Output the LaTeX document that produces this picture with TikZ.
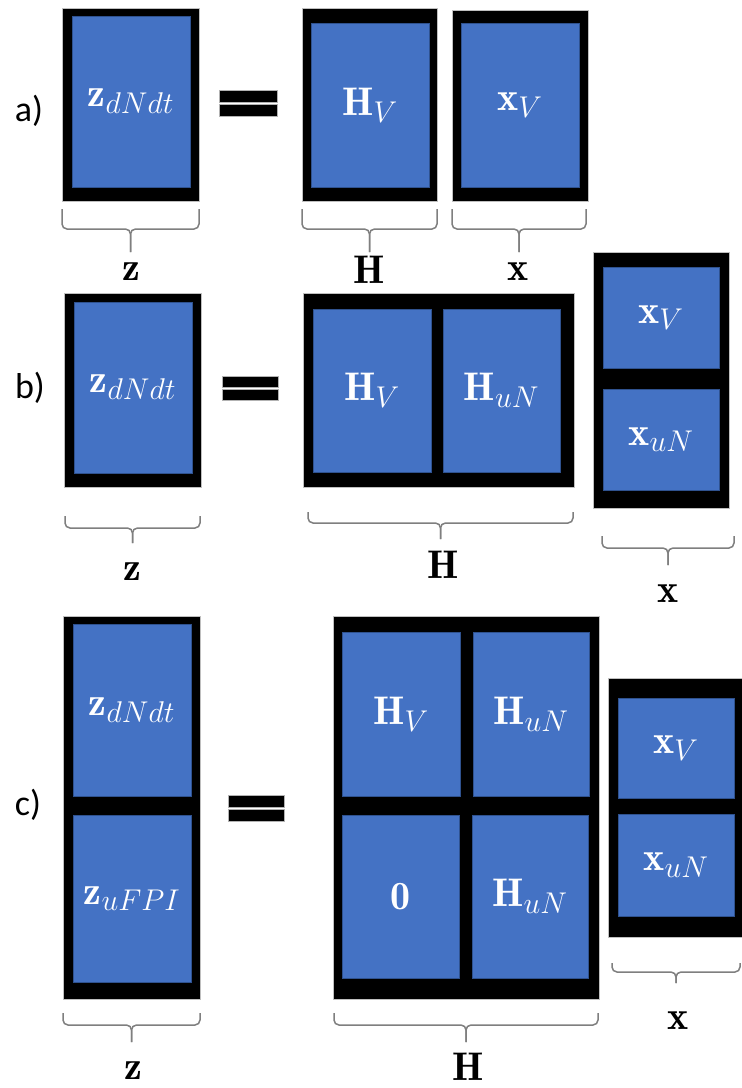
\RequirePackage{fix-cm}
\documentclass[tikz,border=0pt]{standalone}
\usepackage{fontspec}
\newfontfamily\lblfont{Carlito}
\DeclareMathSizes{40}{40}{30}{22}
\definecolor{boxblue}{HTML}{4472C4}
\definecolor{boxedge}{HTML}{2F528F}
\definecolor{bracegray}{HTML}{7F7F7F}
\newcommand\mybrace[5]{%
  \draw[bracestyle] (#1,#3) -- (#1,#4) -- ({(#1+#2)/2},#4) -- ({(#1+#2)/2},#5);
  \draw[bracestyle] (#2,#3) -- (#2,#4) -- ({(#1+#2)/2},#4) -- ({(#1+#2)/2},#5);}
\newcommand\myeq[4]{% x1 x2 ytop ybottom
  \fill[black,draw=gray!60,line width=0.5pt] (#1,#3) rectangle (#2,{#3+(#4-#3)/2-1});
  \fill[black,draw=gray!60,line width=0.5pt] (#1,{#3+(#4-#3)/2+1}) rectangle (#2,#4);}
\tikzset{
  obox/.style={draw=gray!50,line width=0.5pt,fill=black,anchor=north west,inner sep=0pt,outer sep=0pt},
  ibox/.style={draw=boxedge,line width=0.8pt,fill=boxblue,text=white,anchor=north west,inner sep=0pt,outer sep=0pt,
    font=\fontsize{40}{44}\selectfont},
  bracestyle/.style={draw=bracegray,line width=1.5pt,rounded corners=5pt},
  lbl/.style={font=\fontsize{40}{44}\selectfont,text=black,inner sep=0pt},
  part/.style={font=\lblfont\fontsize{36}{40}\selectfont,text=black,inner sep=0pt},
}
\begin{document}
\begin{tikzpicture}[x=1pt,y=-1pt]
\clip (0,0) rectangle (742,1088);
\fill[white] (0,0) rectangle (742,1088);
% ---------------- a)
\node[part] (la) at (29,111) {a)};
\node[obox,minimum width=137pt,minimum height=193pt] (aZo) at (62,8) {};
\node[ibox,minimum width=118pt,minimum height=171pt] (aZ) at (72,16) {$\mathbf{z}_{dNdt}$};
\myeq{219}{277}{90}{116}
\node[obox,minimum width=135pt,minimum height=193pt] (aHo) at (302,8) {};
\node[ibox,minimum width=118pt,minimum height=164pt] (aH) at (311,23) {$\mathbf{H}_{V}$};
\node[obox,minimum width=136pt,minimum height=191pt] (aXo) at (452,10) {};
\node[ibox,minimum width=118pt,minimum height=164pt] (aX) at (461,23) {$\mathbf{x}_{V}$};
\mybrace{62}{199}{209}{229}{252}
\mybrace{302}{437}{209}{229}{252}
\mybrace{452}{586}{209}{229}{252}
\node[lbl] (az) at (131,272) {$\mathbf{z}$};
\node[lbl] (aHl) at (369,270) {$\mathbf{H}$};
\node[lbl] (axl) at (518,272) {$\mathbf{x}$};
% ---------------- b)
\node[part] (lb) at (30,388) {b)};
\node[obox,minimum width=137pt,minimum height=194pt] (bZo) at (64,293) {};
\node[ibox,minimum width=118pt,minimum height=171pt] (bZ) at (74,302) {$\mathbf{z}_{dNdt}$};
\myeq{222}{278}{376}{400}
\node[obox,minimum width=271pt,minimum height=194pt] (bHo) at (303,293) {};
\node[ibox,minimum width=118pt,minimum height=163pt] (bH1) at (313,309) {$\mathbf{H}_{V}$};
\node[ibox,minimum width=117pt,minimum height=163pt] (bH2) at (443,309) {$\mathbf{H}_{uN}$};
\node[obox,minimum width=136pt,minimum height=256pt] (bXo) at (593,252) {};
\node[ibox,minimum width=116pt,minimum height=101pt] (bX1) at (603,267) {$\mathbf{x}_{V}$};
\node[ibox,minimum width=116pt,minimum height=101pt] (bX2) at (603,389) {$\mathbf{x}_{uN}$};
\mybrace{65}{200}{516}{528}{543}
\mybrace{308}{573}{512}{523}{539}
\mybrace{602}{734}{536}{548}{565}
\node[lbl] (bz) at (132,572) {$\mathbf{z}$};
\node[lbl] (bHl) at (443,565) {$\mathbf{H}$};
\node[lbl] (bxl) at (668,594) {$\mathbf{x}$};
% ---------------- c)
\node[part] (lc) at (28,805) {c)};
\node[obox,minimum width=137pt,minimum height=383pt] (cZo) at (63,616) {};
\node[ibox,minimum width=118pt,minimum height=172pt] (cZ1) at (73,624) {$\mathbf{z}_{dNdt}$};
\node[ibox,minimum width=118pt,minimum height=167pt] (cZ2) at (73,815) {$\mathbf{z}_{uFPI}$};
\myeq{228}{284}{795}{821}
\node[obox,minimum width=266pt,minimum height=383pt] (cHo) at (333,616) {};
\node[ibox,minimum width=118pt,minimum height=164pt] (cH1) at (342,632) {$\mathbf{H}_{V}$};
\node[ibox,minimum width=116pt,minimum height=164pt] (cH2) at (473,632) {$\mathbf{H}_{uN}$};
\node[ibox,minimum width=117pt,minimum height=163pt] (cH3) at (342,815) {$\mathbf{0}$};
\node[ibox,minimum width=116pt,minimum height=163pt] (cH4) at (472,815) {$\mathbf{H}_{uN}$};
\node[obox,minimum width=136pt,minimum height=259pt] (cXo) at (608,678) {};
\node[ibox,minimum width=116pt,minimum height=100pt] (cX1) at (618,698) {$\mathbf{x}_{V}$};
\node[ibox,minimum width=116pt,minimum height=102pt] (cX2) at (618,814) {$\mathbf{x}_{uN}$};
\mybrace{63}{200}{1013}{1025}{1042}
\mybrace{334}{598}{1013}{1025}{1042}
\mybrace{612}{740}{963}{972}{983}
\node[lbl] (cz) at (133,1071) {$\mathbf{z}$};
\node[lbl] (cHl) at (468,1067) {$\mathbf{H}$};
\node[lbl] (cxl) at (678,1021) {$\mathbf{x}$};
\end{tikzpicture}
\end{document}
